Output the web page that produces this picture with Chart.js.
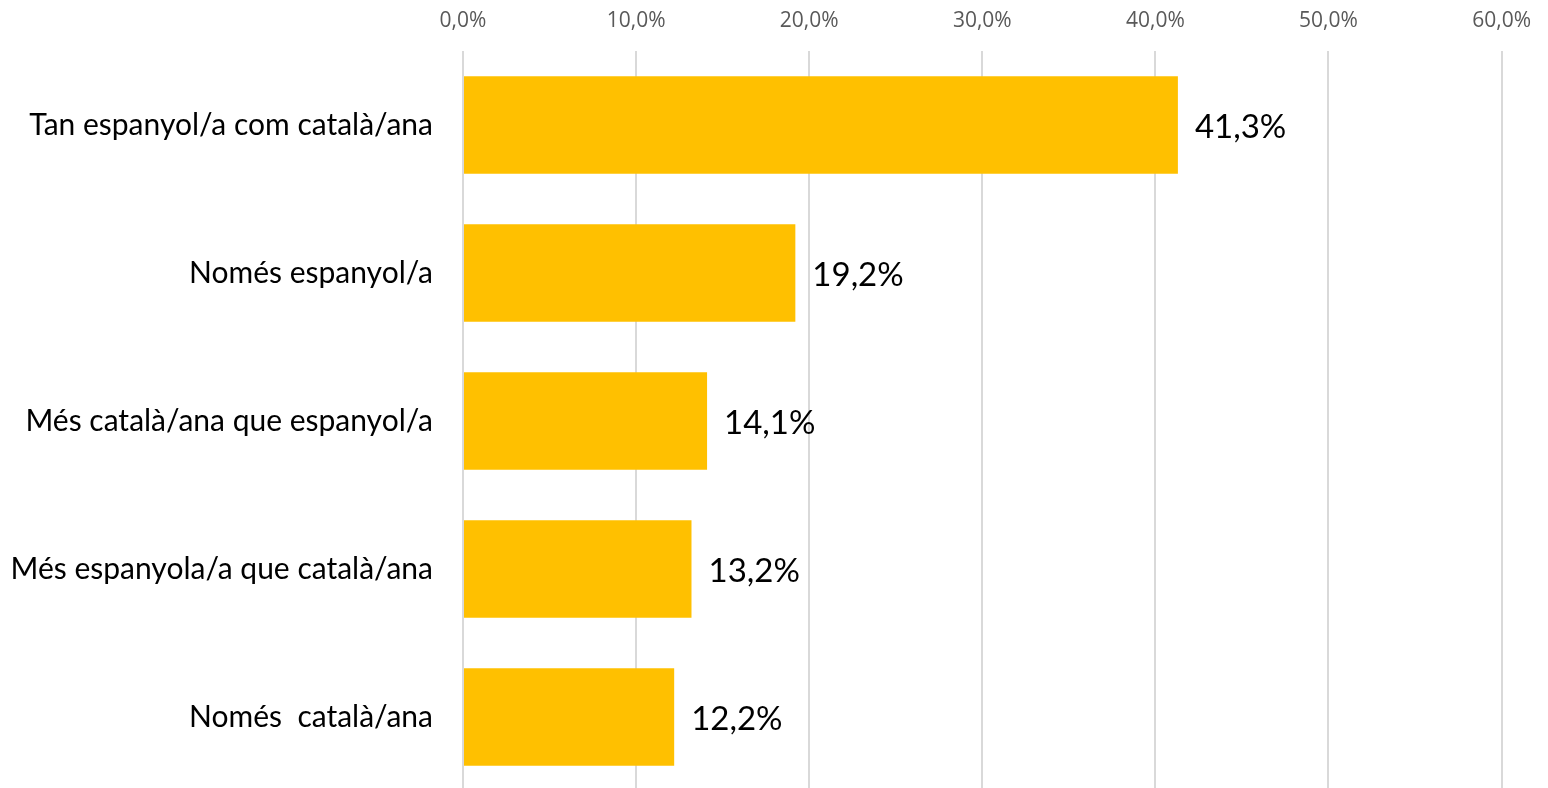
<!DOCTYPE html>
<html>
<head>
<meta charset="utf-8">
<script src="https://cdn.jsdelivr.net/npm/chart.js@4"></script>
<style>
html,body{margin:0;padding:0;background:#fff;overflow:hidden;}
canvas{display:block;}
</style>
</head>
<body>
<canvas id="c" width="1548" height="795" style="width:1548px;height:795px"></canvas>
<script>
const categories = ["Tan espanyol/a com català/ana","Només espanyol/a","Més català/ana que espanyol/a","Més espanyola/a que català/ana","Només  català/ana"];
const values = [41.3, 19.2, 14.1, 13.2, 12.2];
const tickValues = [0,10,20,30,40,50,60];

const fmt = v => v.toFixed(1).replace('.', ',') + '%';

const valueLabels = {
  id: 'valueLabels',
  afterDatasetsDraw(chart) {
    const ctx = chart.ctx;
    const meta = chart.getDatasetMeta(0);
    ctx.save();
    ctx.font = '33px Lato';
    ctx.fillStyle = '#000';
    ctx.textAlign = 'left';
    ctx.textBaseline = 'middle';
    meta.data.forEach((bar, i) => {
      ctx.fillText(fmt(values[i]), bar.x + 17, bar.y + 2);
    });
    ctx.restore();
  }
};

new Chart(document.getElementById('c'), {
  type: 'bar',
  data: {
    labels: categories,
    datasets: [{
      data: values,
      backgroundColor: '#FFC000',
      borderWidth: 0,
      barPercentage: 0.66,
      categoryPercentage: 1
    }]
  },
  options: {
    indexAxis: 'y',
    responsive: false,
    maintainAspectRatio: false,
    animation: false,
    layout: { padding: { left: 0, right: 43, top: 0, bottom: 4 } },
    plugins: { legend: { display: false }, tooltip: { enabled: false } },
    scales: {
      x: {
        position: 'top',
        min: 0, max: 60,
        afterBuildTicks: s => { s.ticks = tickValues.map(v => ({ value: v })); },
        afterFit: s => { s.height = 51; },
        grid: { color: '#d9d9d9', lineWidth: 2, drawTicks: false },
        border: { display: false },
        ticks: {
          font: { family: 'Open Sans', size: 21 },
          color: '#595959',
          padding: 17,
          callback: v => fmt(v)
        }
      },
      y: {
        afterFit: s => { s.width = 463; s.paddingTop = 0; s.paddingBottom = 0; },
        grid: { display: false },
        border: { display: false },
        ticks: {
          font: { family: 'Lato', size: 30 },
          color: '#000',
          padding: 22
        }
      }
    }
  },
  plugins: [valueLabels]
});
</script>
</body>
</html>
